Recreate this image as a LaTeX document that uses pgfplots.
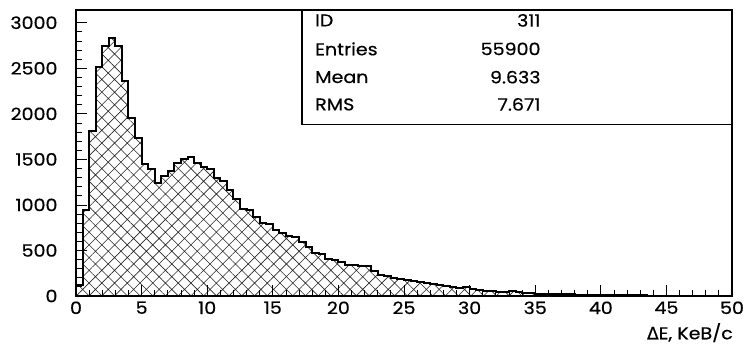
\documentclass[border=0pt]{standalone}
\usepackage{fontspec}
\setmainfont{Poppins}[FakeStretch=1.12,FakeBold=0.5]
\newfontfamily\dv{DejaVu Sans}[FakeBold=0.5]
\usepackage{pgfplots}
\usepackage{pgfplotstable}
\pgfplotsset{compat=1.18}
\usetikzlibrary{patterns.meta}
\pgfplotstableread{
x y
0.0 120
0.5 940
1.0 1810
1.5 2510
2.0 2740
2.5 2830
3.0 2740
3.5 2360
4.0 1950
4.5 1740
5.0 1450
5.5 1390
6.0 1240
6.5 1320
7.0 1370
7.5 1460
8.0 1500
8.5 1530
9.0 1460
9.5 1420
10.0 1395
10.5 1300
11.0 1260
11.5 1160
12.0 1065
12.5 950
13.0 940
13.5 865
14.0 800
14.5 790
15.0 725
15.5 690
16.0 660
16.5 650
17.0 595
17.5 540
18.0 475
18.5 460
19.0 410
19.5 395
20.0 375
20.5 340
21.0 340
21.5 325
22.0 330
22.5 275
23.0 228
23.5 215
24.0 195
24.5 185
25.0 178
25.5 165
26.0 155
26.5 143
27.0 132
27.5 120
28.0 115
28.5 100
29.0 92
29.5 100
30.0 78
30.5 70
31.0 55
31.5 50
32.0 46
32.5 44
33.0 56
33.5 40
34.0 33
34.5 30
35.0 27
35.5 25
36.0 23
36.5 20
37.0 19
37.5 17
38.0 16
38.5 14
39.0 13
39.5 12
40.0 10
40.5 9
41.0 9
41.5 8
42.0 7
42.5 6
43.0 6
43.5 5
44.0 5
44.5 4
45.0 4
45.5 3
46.0 3
46.5 3
47.0 2
47.5 2
48.0 2
48.5 2
49.0 1
49.5 1
50.0 1
}\histdata

\begin{document}%
\begin{tikzpicture}[font=\fontsize{17}{20}\selectfont]
\begin{axis}[
  name=ax,
  at={(0pt,0pt)}, anchor=south west,
  scale only axis, width=656pt, height=286pt,
  xmin=0, xmax=50, ymin=0, ymax=3140,
  xtick={0,5,...,50}, ytick={0,500,...,3000},
  minor x tick num=4, minor y tick num=4,
  tick align=inside, tick pos=left,
  major tick length=11pt, minor tick length=5.5pt,
  every tick/.style={black, line width=0.8pt},
  axis line style={line width=1.5pt},
  axis on top,
  /pgf/number format/assume math mode=true,
  /pgf/number format/set thousands separator={},
  ticklabel style={font=\fontsize{17}{20}\selectfont},
  yticklabel style={xshift=-15pt},
  xticklabel style={yshift=-2pt},
]
\addplot[const plot mark left, draw=black, line width=2pt,
  pattern={Hatch[angle=45,distance=9pt,line width=0.6pt]}, pattern color=black!85]
  table[x=x,y=y]{\histdata} \closedcycle;
\end{axis}
\draw[line width=1.5pt, fill=white] ([xshift=226pt,yshift=171.3pt]ax.south west) rectangle (ax.north east);
\draw[line width=1.5pt] (ax.north west) -- (ax.north east);
\begin{scope}[shift={(ax.south west)}]
\node[anchor=west, inner sep=0pt] at (239pt,275.6pt) {ID};
\node[anchor=west, inner sep=0pt] at (239pt,247.1pt) {Entries};
\node[anchor=west, inner sep=0pt] at (239pt,218.8pt) {Mean};
\node[anchor=west, inner sep=0pt] at (239pt,191.6pt) {RMS};
\node[anchor=east, inner sep=0pt] at (464.7pt,275.6pt) {311};
\node[anchor=east, inner sep=0pt] at (464.7pt,247.1pt) {55900};
\node[anchor=east, inner sep=0pt] at (464.7pt,218.8pt) {9.633};
\node[anchor=east, inner sep=0pt] at (464.7pt,191.6pt) {7.671};
\node[anchor=east, inner sep=0pt] at (657pt,-36.7pt) {{\dv\char"0394}E, KeB/c};
\end{scope}
\pgfresetboundingbox
\path[use as bounding box] ([shift={(-76pt,-50.7pt)}]ax.south west) rectangle ([shift={(13pt,10pt)}]ax.north east);
\end{tikzpicture}%
\end{document}
